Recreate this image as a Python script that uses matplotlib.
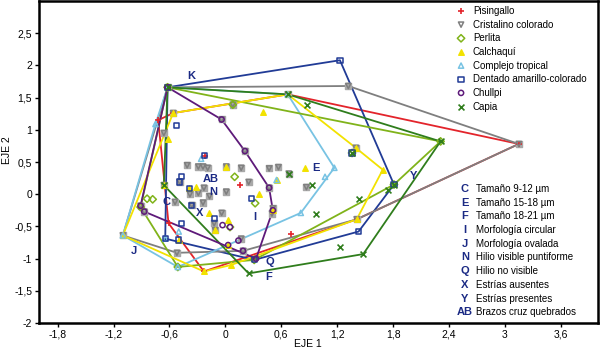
import numpy as np
import matplotlib
matplotlib.use('Agg')
import matplotlib.pyplot as plt
from matplotlib.ticker import FixedLocator, FuncFormatter

plt.rcParams['font.family'] = ['Liberation Sans', 'DejaVu Sans']

# ---- data (EJE 1, EJE 2) ----
pisingallo_x = [-0.56, -0.72, 0.67, 3.15, 1.41, -0.23, -0.61, 0.16, 0.70, -0.22]
pisingallo_y = [1.26, 1.15, 1.55, 0.78, -0.39, -1.20, -0.45, 0.14, -0.62, 0.60]

cristalino_x = [-0.62, 1.32, 3.15, 1.41, 0.19, -0.52, -1.10, -0.56, -0.66, 0.08, -0.04, 0.67,
                0.21, -0.41, -0.29, -0.24, -0.19, 0.01, 0.17, 0.47, 0.57, 0.68, 0.47, 0.25,
                0.51, 0.50, -0.49, -0.23, -0.38, -0.29, -0.17, -0.54, -0.36, -0.24, -0.04,
                -0.12, -0.91, -0.87, 0.87, 1.40, 0.17, -0.11, 0.01, -0.66]
cristalino_y = [1.66, 1.68, 0.78, -0.39, -0.88, -0.91, -0.64, 1.26, 0.95, 1.39, 1.16, 1.55,
                0.67, 0.45, 0.43, 0.43, 0.41, 0.43, 0.41, 0.40, 0.42, 0.32, 0.10, 0.19,
                -0.22, -0.30, 0.19, 0.10, 0.00, 0.02, -0.03, -0.12, -0.17, -0.13, -0.29,
                -0.45, -0.18, -0.27, 0.11, 0.72, -0.69, -0.56, 0.04, 0.14]

perlita_x = [-0.62, 0.08, 2.31, 0.31, -0.51, -0.91, -0.84, -0.78, 0.10, 0.32, 0.05, 1.81, 1.36]
perlita_y = [1.66, 1.39, 0.82, -1.02, -1.13, -0.20, -0.07, -0.08, 0.27, -0.14, -0.51, 0.15, 0.64]

calchaqui_x = [-0.56, 0.67, 1.40, 1.69, 1.41, 0.06, -0.23, -1.10, -0.62, 0.40, -0.66, -0.31,
               -0.385, -0.18, 0.03, -0.11, -0.50, 0.03, 0.36, 0.55, 0.85, 0.01, 0.51]
calchaqui_y = [1.26, 1.55, 0.72, 0.38, -0.39, -1.10, -1.20, -0.64, 0.85, 1.27, 0.14, 0.11,
               0.09, -0.29, -0.40, -0.56, -0.71, -0.79, 0.01, 0.22, 0.41, 0.43, -0.25]

tropical_x = [-0.62, 0.67, 1.17, 1.07, 0.81, -0.51, -1.10, -0.75, -0.26, -0.50, 0.55, -0.645]
tropical_y = [1.66, 1.55, 0.41, 0.27, -0.29, -1.13, -0.64, 1.09, 0.55, -0.58, 0.22, -0.69]

dentado_x = [-0.62, 1.23, 1.81, 1.43, 0.31, -0.645, -0.52, -0.22, -0.47, -0.385, -0.12,
             -0.47, -0.50, 0.28, 1.36, -0.36, -0.49]
dentado_y = [1.66, 2.08, 0.15, -0.58, -1.02, -0.69, 1.07, 0.60, 0.28, 0.09, -0.38,
             -0.46, -0.71, -0.07, 0.64, -0.17, 0.19]

chullpi_x = [-0.62, -0.04, 0.21, 0.47, 0.51, 0.33, 0.19, 0.03, -0.87, -0.91, 0.14, -0.03, 0.05]
chullpi_y = [1.66, 1.16, 0.67, 0.10, -0.25, -1.00, -0.88, -0.79, -0.27, -0.18, -0.72, -0.48, -0.51]

capia_x = [-0.62, 0.67, 2.31, 1.48, 0.25, -0.66, 0.88, 0.93, 0.97, 1.43, 1.75, 1.23, 0.68, 1.36, 1.81]
capia_y = [1.66, 1.55, 0.82, -0.93, -1.23, 0.14, 1.39, 0.15, -0.31, -0.08, 0.06, -0.82, 0.32, 0.64, 0.15]

# variable labels placed on the plot
var_codes = ['K', 'AB', 'N', 'C', 'X', 'I', 'Q', 'F', 'J', 'E', 'Y']
var_x = [-0.37, -0.16, -0.13, -0.63, -0.28, 0.32, 0.48, 0.47, -0.98, 0.97, 2.02]
var_y = [1.84, 0.24, 0.04, -0.12, -0.29, -0.36, -1.05, -1.28, -0.88, 0.40, 0.29]

legend_codes = ['C', 'E', 'F', 'I', 'J', 'N', 'Q', 'X', 'Y', 'AB']
legend_texts = ['Tamaño 9-12 µm', 'Tamaño 15-18 µm', 'Tamaño 18-21 µm', 'Morfología circular',
                'Morfología ovalada', 'Hilio visible puntiforme', 'Hilio no visible',
                'Estrías ausentes', 'Estrías presentes', 'Brazos cruz quebrados']

x_ticks = [-1.8, -1.2, -0.6, 0, 0.6, 1.2, 1.8, 2.4, 3.0, 3.6]
y_ticks = [-2, -1.5, -1, -0.5, 0, 0.5, 1, 1.5, 2, 2.5]

# (name, x, y, color, marker, filled)
groups = [
    ('Pisingallo', pisingallo_x, pisingallo_y, '#e3242b', '+', True),
    ('Cristalino colorado', cristalino_x, cristalino_y, '#7f7f7f', 'v', False),
    ('Perlita', perlita_x, perlita_y, '#80b31a', 'D', False),
    ('Calchaquí', calchaqui_x, calchaqui_y, '#f2e200', '^', True),
    ('Complejo tropical', tropical_x, tropical_y, '#78c3e3', '^', False),
    ('Dentado amarillo-colorado', dentado_x, dentado_y, '#213b96', 's', False),
    ('Chullpi', chullpi_x, chullpi_y, '#5e1a7a', 'o', False),
    ('Capia', capia_x, capia_y, '#2f7d1c', 'x', True),
]
hull_order = [0, 5, 1, 4, 2, 3, 7, 6]
label_blue = '#1b2a84'


def convex_hull(xs, ys):
    pts = sorted(set(zip(xs, ys)))

    def cross(o, a, b):
        return (a[0] - o[0]) * (b[1] - o[1]) - (a[1] - o[1]) * (b[0] - o[0])

    lower, upper = [], []
    for p in pts:
        while len(lower) >= 2 and cross(lower[-2], lower[-1], p) <= 0:
            lower.pop()
        lower.append(p)
    for p in reversed(pts):
        while len(upper) >= 2 and cross(upper[-2], upper[-1], p) <= 0:
            upper.pop()
        upper.append(p)
    h = lower[:-1] + upper[:-1]
    h.append(h[0])
    return np.array(h)


fig = plt.figure(figsize=(6.0, 3.52), dpi=100)
ax = fig.add_axes([39 / 600, 29 / 352, 559 / 600, 322 / 352])

# hulls
for i in hull_order:
    name, xs, ys, col, mk, filled = groups[i]
    h = convex_hull(xs, ys)
    ax.plot(h[:, 0], h[:, 1], color=col, lw=1.3, zorder=2)

# points: grey squares under the Cristalino triangles
ax.scatter(cristalino_x, cristalino_y, marker='s', s=24, color='#a8a8a8', zorder=3)
for name, xs, ys, col, mk, filled in groups:
    if mk in ('+', 'x'):
        ax.scatter(xs, ys, marker=mk, s=18, color=col, linewidths=1.2, zorder=4)
    elif filled:
        ax.scatter(xs, ys, marker=mk, s=16, color=col, zorder=4)
    else:
        ax.scatter(xs, ys, marker=mk, s=14, facecolors='none', edgecolors=col,
                   linewidths=1.1, zorder=4)

for code, tx, ty in zip(var_codes, var_x, var_y):
    ax.text(tx, ty, code, color=label_blue, fontsize=8, fontweight='bold',
            ha='center', va='center', zorder=5)

# legend of cultivars
for i, (name, xs, ys, col, mk, filled) in enumerate(groups):
    yy = 0.969 - i * 0.0424
    if mk in ('+', 'x'):
        ax.scatter([0.755], [yy], marker=mk, s=18, color=col, linewidths=1.2,
                   transform=ax.transAxes, clip_on=False)
    elif filled:
        ax.scatter([0.755], [yy], marker=mk, s=16, color=col,
                   transform=ax.transAxes, clip_on=False)
    else:
        ax.scatter([0.755], [yy], marker=mk, s=14, facecolors='none', edgecolors=col,
                   linewidths=1.1, transform=ax.transAxes, clip_on=False)
    ax.text(0.776, yy, name, fontsize=7, ha='left', va='center', transform=ax.transAxes)

# legend of variable codes
for i, (code, txt) in enumerate(zip(legend_codes, legend_texts)):
    yy = 0.416 - i * 0.0425
    ax.text(0.762, yy, code, color=label_blue, fontsize=8, fontweight='bold',
            ha='center', va='center', transform=ax.transAxes)
    ax.text(0.782, yy, txt, fontsize=7, ha='left', va='center', transform=ax.transAxes)

ax.set_xlim(-2, 4)
ax.set_ylim(-2, 3)


def comma(v, pos):
    return ('%g' % round(v, 2)).replace('.', ',')


ax.xaxis.set_major_locator(FixedLocator(x_ticks))
ax.yaxis.set_major_locator(FixedLocator(y_ticks))
ax.xaxis.set_major_formatter(FuncFormatter(comma))
ax.yaxis.set_major_formatter(FuncFormatter(comma))
ax.tick_params(direction='out', length=3, width=1, labelsize=7.5, pad=2)
for s in ax.spines.values():
    s.set_linewidth(1.8)

fig.text(308 / 600, 1 - 344 / 352, 'EJE 1', fontsize=7.5, ha='center', va='center')
fig.text(7 / 600, 1 - 150 / 352, 'EJE 2', fontsize=7.5, ha='center', va='center', rotation=90)

fig.savefig('out.png', dpi=100)
